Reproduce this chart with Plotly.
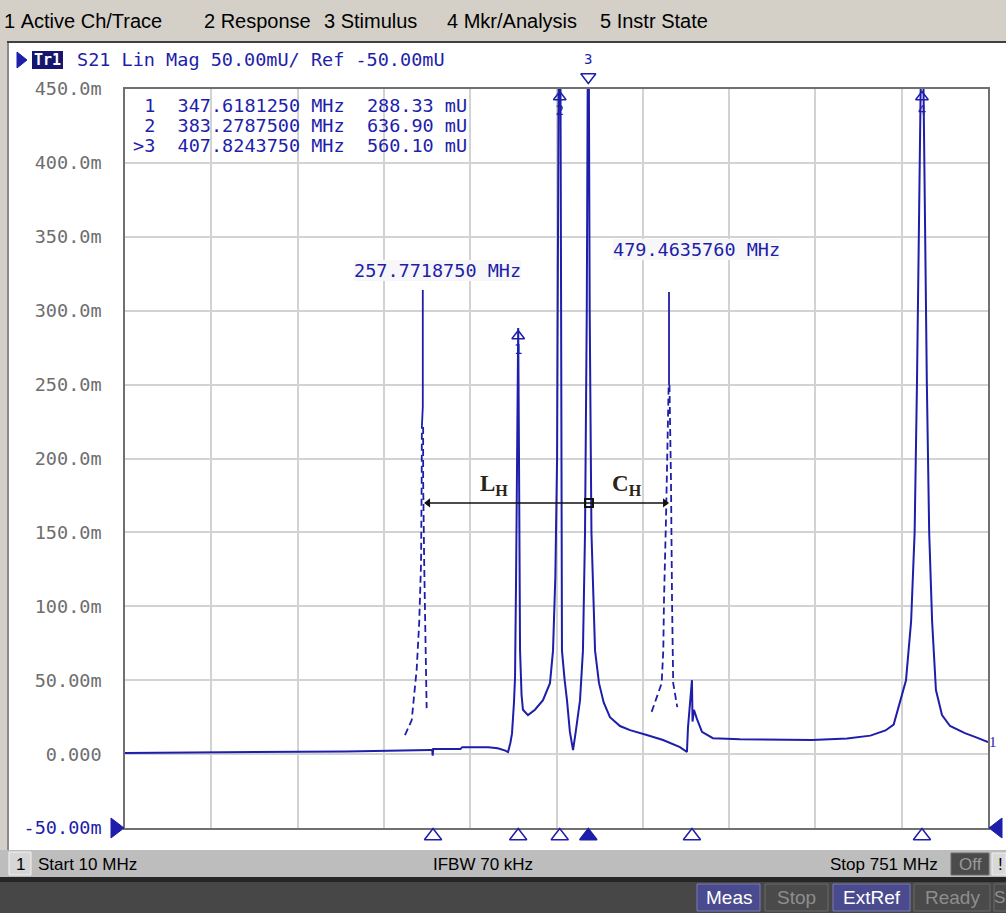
import plotly.graph_objects as go

# ---------------- data ----------------
START_MHZ = 10
STOP_MHZ = 751
Y_MIN, Y_MAX = -50, 450

Y_TICKS = [-50, 0, 50, 100, 150, 200, 250, 300, 350, 400, 450]
Y_TICK_TEXT = ["-50.00m", "0.000", "50.00m", "100.0m", "150.0m", "200.0m",
               "250.0m", "300.0m", "350.0m", "400.0m", "450.0m"]

# measured S21 trace (MHz, mU)
MAIN_FREQ = [10, 100, 200, 272, 273.8, 274.2, 274.6, 298, 299.5, 322, 330, 336, 338.9,
             341, 342.3, 344, 344.9, 345.8, 346.8, 347.618125, 348.3, 348.8, 349.2, 350.5,
             351.7, 356, 362, 368.9, 372, 374.9, 377.5, 379.5, 381, 382.3, 383.27875,
             384.3, 385.2, 387.5, 389.5, 392, 394.7, 397, 400.7, 403.2, 405, 406.5,
             407.824375, 409, 410.5, 413.6, 417, 421, 426.4, 435, 443.6, 458, 472, 486.5,
             492.5, 493.4, 494.5, 496.8, 497.3, 498.5, 501, 505.4, 514.8, 538, 600, 630,
             650, 663, 670, 675.5, 680.6, 685, 688, 690, 691.8, 693.5, 694.3, 695.2, 697,
             698.5, 700.5, 703, 706.3, 711.5, 718.4, 731.2, 742, 751]
MAIN_MAG = [0.7, 1.2, 1.8, 2.7, 2.7, -1.0, 3.4, 3.4, 4.7, 4.7, 4.0, 2.5, 1.4,
            8, 14, 35, 52, 120, 230, 288.33, 200, 100, 70, 40,
            30, 26.4, 30, 36.5, 42, 48, 70, 120, 200, 345, 636.9,
            345, 70, 50, 36.5, 15, 2.7, 15, 36.5, 70, 150, 300,
            560.1, 300, 150, 70, 48, 35, 25, 19, 16.2, 12.9, 9.5, 4.7,
            1.4, 18, 30, 50, 22, 30, 24, 15, 10.8, 10, 9.5, 10.5,
            12.5, 16, 20, 36.5, 50, 90, 150, 250, 350, 480, 520, 480, 350,
            250, 150, 90, 43.3, 26.4, 19, 14.2, 11, 8.1]

# dashed overlay resonance near 257.77 MHz (left & right flanks) and its peak line
DASH_L1_FREQ = [250.4, 256.2, 258.1, 260.4, 262.6, 264.2, 264.75, 264.9]
DASH_L1_MAG = [12.9, 23.0, 38.6, 56.8, 88.6, 129.2, 185.4, 221.3]
DASH_R1_FREQ = [266.0, 266.0, 266.9, 268.1, 269.0]
DASH_R1_MAG = [221.3, 185.4, 129.2, 65.6, 31.1]
PEAK1_FREQ = [264.9, 265.7, 265.7]
PEAK1_MAG = [221.3, 234.8, 314.0]

# dashed overlay resonance near 479.46 MHz
DASH_L2_FREQ = [462.2, 468.0, 470.8, 472.2, 472.8, 474.5, 476.2, 476.8]
DASH_L2_MAG = [28.6, 41.3, 48.0, 70.4, 104.2, 158.3, 226.0, 249.7]
DASH_R2_FREQ = [477.5, 478.8, 479.7, 480.2, 480.7, 484.2]
DASH_R2_MAG = [249.7, 185.4, 104.2, 70.4, 48.0, 31.8]
PEAK2_FREQ = [477.1, 477.1]
PEAK2_MAG = [249.7, 312.6]

PEAK_LABELS = ["257.7718750 MHz", "479.4635760 MHz"]

# L_H / C_H span arrow
SPAN_FREQ = [270.2, 473.7]
SPAN_MAG = [169.9, 169.9]
SPAN_MID_FREQ = [408.4]

# markers
MKR_NAMES = ["1", "2", "3", "4"]
MKR_FREQ = [347.618125, 383.27875, 407.824375, 694.3]
MKR_VAL = [288.33, 636.90, 560.10, 520.0]
ACTIVE_MKR = 2
# stimulus-position triangles below the grid
STIM_FREQ = [274.5, 347.618125, 383.27875, 407.824375, 496.8, 694.3]
STIM_ACTIVE = [False, False, False, True, False, False]

# ---------------- style ----------------
W, H = 1006, 913
ML, MR, MT, MB = 125, 18, 44, 63          # outer subplot area (pixel rows 44..850)
PW, PH = W - ML - MR, H - MT - MB
GRID_TOP, GRID_BOT = 89, 828              # pixel rows of the measurement grid
BLUE = "#1e1eaa"
GRID = "#d2d2d2"
MONO = "DejaVu Sans Mono"
UI = "Liberation Sans"


def PX(x):
    return (x - ML) / PW


def PY(y):
    return (H - MB - y) / PH


shapes = []
anns = []


def rect(x0, y0, x1, y1, fill, line=None, lw=1, layer="below"):
    shapes.append(dict(type="rect", xref="paper", yref="paper",
                       x0=PX(x0), x1=PX(x1), y0=PY(y1), y1=PY(y0),
                       fillcolor=fill,
                       line=dict(color=line if line else fill, width=lw if line else 0),
                       layer=layer))


def text(x, y, s, size=17, color="#000000", family=UI, xanchor="left",
         yanchor="middle", bg=None, bold=False):
    s = s.replace(" ", "\u00a0")
    if bold:
        s = "<b>" + s + "</b>"
    d = dict(x=PX(x), y=PY(y), xref="paper", yref="paper", text=s, showarrow=False,
             xanchor=xanchor, yanchor=yanchor, font=dict(size=size, color=color, family=family),
             borderpad=0, borderwidth=0)
    if bg:
        d["bgcolor"] = bg
    anns.append(d)


def tri(points, fill, line=None, layer="above"):
    p = "M " + " L ".join(f"{PX(a)},{PY(b)}" for a, b in points) + " Z"
    shapes.append(dict(type="path", xref="paper", yref="paper", path=p,
                       fillcolor=fill, line=dict(color=line or fill, width=1), layer=layer))


# menu bar
rect(0, 0, W, 41, "#d4d0c8")
rect(7, 41, W, 43, "#404040")
rect(0, 41, 7, 850, "#d4d0c8")
rect(7, 43, 9, 850, "#8a8a8a")
for lbl, x in [("1 Active Ch/Trace", 4), ("2 Response", 204), ("3 Stimulus", 324),
               ("4 Mkr/Analysis", 447), ("5 Instr State", 600)]:
    text(x, 21, lbl, size=20)

# trace header
tri([(17, 52), (27, 60), (17, 68)], BLUE)
rect(32, 51, 63, 69, "#16166e")
text(47.5, 60, "Tr1", size=15, color="#ffffff", family=MONO, xanchor="center", bold=True)
text(77, 60, "S21 Lin Mag 50.00mU/ Ref -50.00mU", size=18.5, color=BLUE, family=MONO)

# status bar
rect(0, 850, W, 877, "#bdbdbd")
rect(9, 852, 31, 875, "#d6d6d6", line="#f2f2f2", lw=1)
text(20, 864, "1", size=17, xanchor="center")
text(38, 864, "Start " + str(START_MHZ) + " MHz", size=17)
text(483, 864, "IFBW 70 kHz", size=17, xanchor="center")
text(938, 864, "Stop " + str(STOP_MHZ) + " MHz", size=17, xanchor="right")
rect(951, 853, 989, 875, "#4b4b4b", line="#6a6a6a", lw=1)
text(970, 864, "Off", size=17, color="#9a9a9a", xanchor="center")
rect(992, 853, W, 875, "#d8d8d8", line="#f0f0f0", lw=1)
text(998, 864, "!", size=17)
rect(0, 877, W, 882, "#262626")
rect(0, 882, W, H, "#474747")
for lbl, x0, x1, active in [("Meas", 697, 760, True), ("Stop", 765, 828, False),
                            ("ExtRef", 833, 910, True), ("Ready", 914, 990, False),
                            ("S", 994, 1012, False)]:
    rect(x0, 884, x1, 911, "#4a4a8e" if active else "#4a4a4a",
         line="#7a7ab8" if active else "#6a6a6a", lw=1)
    if lbl == "S":
        text(994.5, 897.5, lbl, size=17, color="#8e8e8e")
    else:
        text((x0 + x1) / 2, 897.5, lbl, size=19,
             color="#ffffff" if active else "#8e8e8e", xanchor="center")

# reference-level triangles
tri([(111, 818), (124, 828), (111, 838)], BLUE)
tri([(1002, 818), (989, 828), (1002, 838)], BLUE)

# marker readout
for i in range(3):
    pre = ">" if i == ACTIVE_MKR else " "
    line = f"{pre}{MKR_NAMES[i]}  {MKR_FREQ[i]:.7f} MHz  {MKR_VAL[i]:.2f} mU"
    text(133, 106 + 20 * i, line, size=18.5, color=BLUE, family=MONO)

# peak frequency labels
text(437, 270, PEAK_LABELS[0], size=18.5, color=BLUE, family=MONO, xanchor="center", bg="#f7f7f9")
text(696, 249, PEAK_LABELS[1], size=18.5, color=BLUE, family=MONO, xanchor="center", bg="#f7f7f9")

# L_H, C_H labels
for lbl, x in [("L", 478), ("C", 610)]:
    anns.append(dict(x=PX(x), y=PY(485), xref="paper", yref="paper", showarrow=False,
                     xanchor="left", yanchor="middle",
                     text=f"<b>{lbl}</b><sub><b>H</b></sub>",
                     font=dict(family="Liberation Serif", size=23, color="#2a2418")))

fig = go.Figure()

fig.add_trace(go.Scatter(x=MAIN_FREQ, y=MAIN_MAG, mode="lines",
                         line=dict(color=BLUE, width=2), hoverinfo="skip"))
for fx, fy in [(DASH_L1_FREQ, DASH_L1_MAG), (DASH_R1_FREQ, DASH_R1_MAG),
               (DASH_L2_FREQ, DASH_L2_MAG), (DASH_R2_FREQ, DASH_R2_MAG)]:
    fig.add_trace(go.Scatter(x=fx, y=fy, mode="lines",
                             line=dict(color=BLUE, width=1.8, dash="7px,4px"), hoverinfo="skip"))
for fx, fy in [(PEAK1_FREQ, PEAK1_MAG), (PEAK2_FREQ, PEAK2_MAG)]:
    fig.add_trace(go.Scatter(x=fx, y=fy, mode="lines",
                             line=dict(color=BLUE, width=1.8), hoverinfo="skip"))

# span arrow
fig.add_trace(go.Scatter(x=SPAN_FREQ, y=SPAN_MAG, mode="lines+markers",
                         line=dict(color="#111111", width=1.5),
                         marker=dict(symbol=["triangle-left", "triangle-right"], size=8,
                                     color="#111111"),
                         hoverinfo="skip"))
fig.add_trace(go.Scatter(x=SPAN_MID_FREQ, y=[SPAN_MAG[0]], mode="markers",
                         marker=dict(symbol="square-open", size=8, color="#111111",
                                     line=dict(color="#111111", width=2)),
                         hoverinfo="skip"))

# markers on trace (clipped to the top of the grid)
y_px = (GRID_BOT - GRID_TOP) / (Y_MAX - Y_MIN)
for i, (n, f, v) in enumerate(zip(MKR_NAMES, MKR_FREQ, MKR_VAL)):
    if i == ACTIVE_MKR:
        # active marker above the grid: drawn on the overlay (pixel-row) axes
        fig.add_trace(go.Scatter(x=[f], y=[77], xaxis="x2", yaxis="y2",
                                 mode="markers+text", text=[n], textposition="top center",
                                 textfont=dict(family=MONO, size=14, color=BLUE),
                                 marker=dict(symbol="triangle-down-open", size=13, color=BLUE,
                                             line=dict(color=BLUE, width=1.5)),
                                 cliponaxis=False, hoverinfo="skip"))
    else:
        yv = min(v, Y_MAX) - 8 / y_px
        fig.add_trace(go.Scatter(x=[f], y=[yv], mode="markers+text", text=[n],
                                 textposition="bottom center",
                                 textfont=dict(family=MONO, size=14, color=BLUE),
                                 marker=dict(symbol="triangle-up-open", size=11, color=BLUE,
                                             line=dict(color=BLUE, width=1.5)),
                                 cliponaxis=False, hoverinfo="skip"))

# right-edge trace label
text(989, 742, "1", size=15, color=BLUE, family="Liberation Serif")

# stimulus triangles below grid (overlay axes, y in pixel rows)
fig.add_trace(go.Scatter(
    x=STIM_FREQ, y=[836] * len(STIM_FREQ), xaxis="x2", yaxis="y2", mode="markers",
    marker=dict(symbol=["triangle-up" if a else "triangle-up-open" for a in STIM_ACTIVE],
                size=15, color=BLUE, line=dict(color=BLUE, width=1.5)),
    cliponaxis=False, hoverinfo="skip"))

ticktext = [f"<span style='color:{BLUE}'>{t}</span>" if v == Y_MIN else t
            for v, t in zip(Y_TICKS, Y_TICK_TEXT)]

y_dom = [PY(GRID_BOT), PY(GRID_TOP)]

fig.update_layout(
    width=W, height=H,
    margin=dict(l=ML, r=MR, t=MT, b=MB),
    paper_bgcolor="#ffffff", plot_bgcolor="rgba(0,0,0,0)",
    showlegend=False,
    shapes=shapes, annotations=anns,
    xaxis=dict(range=[START_MHZ, STOP_MHZ], tick0=START_MHZ,
               dtick=(STOP_MHZ - START_MHZ) / 10, showticklabels=False,
               showgrid=True, gridcolor=GRID, gridwidth=1.5, zeroline=False,
               showline=True, mirror=True, linecolor="#707070", linewidth=1.5, ticks="",
               anchor="y"),
    yaxis=dict(range=[Y_MIN, Y_MAX], domain=y_dom, tickvals=Y_TICKS, ticktext=ticktext,
               tickfont=dict(family=MONO, size=18.5, color="#6e6e6e"),
               showgrid=True, gridcolor=GRID, gridwidth=1.5, zeroline=False,
               showline=True, mirror=True, linecolor="#707070", linewidth=1.5,
               ticks="outside", ticklen=18, tickcolor="rgba(0,0,0,0)", anchor="x"),
    xaxis2=dict(range=[START_MHZ, STOP_MHZ], domain=[0, 1], visible=False, anchor="y2",
                showgrid=False, zeroline=False),
    yaxis2=dict(range=[H - MB, MT], domain=[0, 1], visible=False, anchor="x2",
                showgrid=False, zeroline=False),
)

fig.write_html("out.html")
